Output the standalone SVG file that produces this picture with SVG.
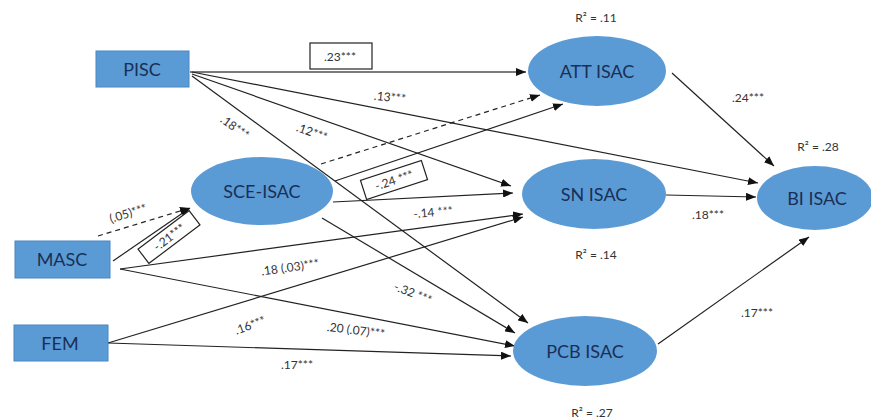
<svg xmlns="http://www.w3.org/2000/svg" width="871" height="420" viewBox="0 0 871 420">
<defs>
<marker id="ah" markerWidth="10" markerHeight="8" refX="10" refY="4" orient="auto" markerUnits="userSpaceOnUse">
<path d="M0,0 L10,4 L0,8 z" fill="#111"/>
</marker>
<style>
.node{fill:#5b9bd5}
.rect{fill:#5b9bd5;stroke:#4a86c0;stroke-width:1}
.nt{font-family:Lato,"Liberation Sans",sans-serif;font-size:18px;fill:#1a2f55;text-anchor:middle;dominant-baseline:central}
.c{fill:none;stroke:#222;stroke-width:1.2;marker-end:url(#ah)}
.dash{stroke-dasharray:5,4}
.lb{font-family:Lato,"Liberation Sans",sans-serif;font-size:12px;fill:#333;text-anchor:middle;dominant-baseline:central}
.box{fill:#fff;stroke:#222;stroke-width:1.2}
</style>
</defs>
<rect width="871" height="420" fill="#fff"/>
<g id="connectors">
<line class="c" x1="190" y1="72" x2="526" y2="72" style="stroke:#7a7a7a;stroke-width:2"/>
<line class="c" x1="192" y1="72" x2="758" y2="183"/>
<line class="c" x1="192" y1="74" x2="511" y2="186"/>
<line class="c" x1="192" y1="76" x2="528" y2="323"/>
<line class="c dash" x1="321" y1="164" x2="540" y2="95"/>
<line class="c" x1="335" y1="181" x2="563" y2="104"/>
<line class="c" x1="333" y1="202" x2="513" y2="193"/>
<line class="c" x1="322" y1="218" x2="515" y2="333"/>
<line class="c dash" x1="98" y1="236" x2="190" y2="208"/>
<line class="c" x1="113" y1="261" x2="190" y2="208"/>
<line class="c" x1="120" y1="269" x2="523" y2="214"/>
<line class="c" x1="120" y1="269" x2="515" y2="346"/>
<line class="c" x1="108" y1="343" x2="523" y2="217"/>
<line class="c" x1="108" y1="343" x2="511" y2="356"/>
<line class="c" x1="672" y1="73" x2="774" y2="166"/>
<line class="c" x1="666" y1="195" x2="756" y2="197"/>
<line class="c" x1="658" y1="344" x2="809" y2="237"/>
</g>
<g id="labels">
<rect class="box" x="310" y="43" width="62" height="26"/>
<text class="lb" x="340" y="56">.23***</text>
<text class="lb" x="390" y="97" transform="rotate(6 390 97)">.13***</text>
<text class="lb" x="312" y="132" transform="rotate(20 312 132)">.12***</text>
<text class="lb" x="235" y="127" transform="rotate(36 235 127)">.18***</text>
<g transform="translate(394 180) rotate(-18)">
<rect class="box" x="-32" y="-10" width="64" height="20"/>
<text class="lb" x="0" y="0">-.24 ***</text>
</g>
<text class="lb" x="433" y="212" transform="rotate(-5 433 212)">-.14 ***</text>
<text class="lb" x="128" y="213" transform="rotate(-17 128 213)">(.05)***</text>
<g transform="translate(169 237) rotate(-37)">
<rect class="box" x="-32" y="-9" width="64" height="18"/>
<text class="lb" x="0" y="0">-.21***</text>
</g>
<text class="lb" x="290" y="267" transform="rotate(-8 290 267)">.18 (.03)***</text>
<text class="lb" x="413" y="293" transform="rotate(22 413 293)">-.32 ***</text>
<text class="lb" x="250" y="325" transform="rotate(-20 250 325)">.16***</text>
<text class="lb" x="356" y="330" transform="rotate(7 356 330)">.20 (.07)***</text>
<text class="lb" x="297" y="364">.17***</text>
<text class="lb" x="748" y="97">.24***</text>
<text class="lb" x="708" y="214">.18***</text>
<text class="lb" x="757" y="312">.17***</text>
<text class="lb" x="596" y="17">R² = .11</text>
<text class="lb" x="818" y="146">R² = .28</text>
<text class="lb" x="596" y="254">R² = .14</text>
<text class="lb" x="592" y="412">R² = .27</text>
</g>
<g id="PISC"><rect class="rect" x="96" y="51" width="93" height="36"/><text class="nt" x="142" y="69">PISC</text></g>
<g id="MASC"><rect class="rect" x="15" y="241" width="95" height="37"/><text class="nt" x="62" y="259">MASC</text></g>
<g id="FEM"><rect class="rect" x="14" y="325" width="94" height="36"/><text class="nt" x="60" y="343">FEM</text></g>
<g id="SCE-ISAC"><ellipse class="node" cx="262" cy="191" rx="71" ry="34"/><text class="nt" x="262" y="191">SCE-ISAC</text></g>
<g id="ATT-ISAC"><ellipse class="node" cx="597" cy="71" rx="69" ry="35"/><text class="nt" x="597" y="71">ATT ISAC</text></g>
<g id="SN-ISAC"><ellipse class="node" cx="594" cy="194" rx="72" ry="35"/><text class="nt" x="594" y="194">SN ISAC</text></g>
<g id="PCB-ISAC"><ellipse class="node" cx="585" cy="351" rx="72" ry="35"/><text class="nt" x="585" y="351">PCB ISAC</text></g>
<g id="BI-ISAC"><ellipse class="node" cx="815" cy="198" rx="58" ry="32"/><text class="nt" x="817" y="198">BI ISAC</text></g>
</svg>
